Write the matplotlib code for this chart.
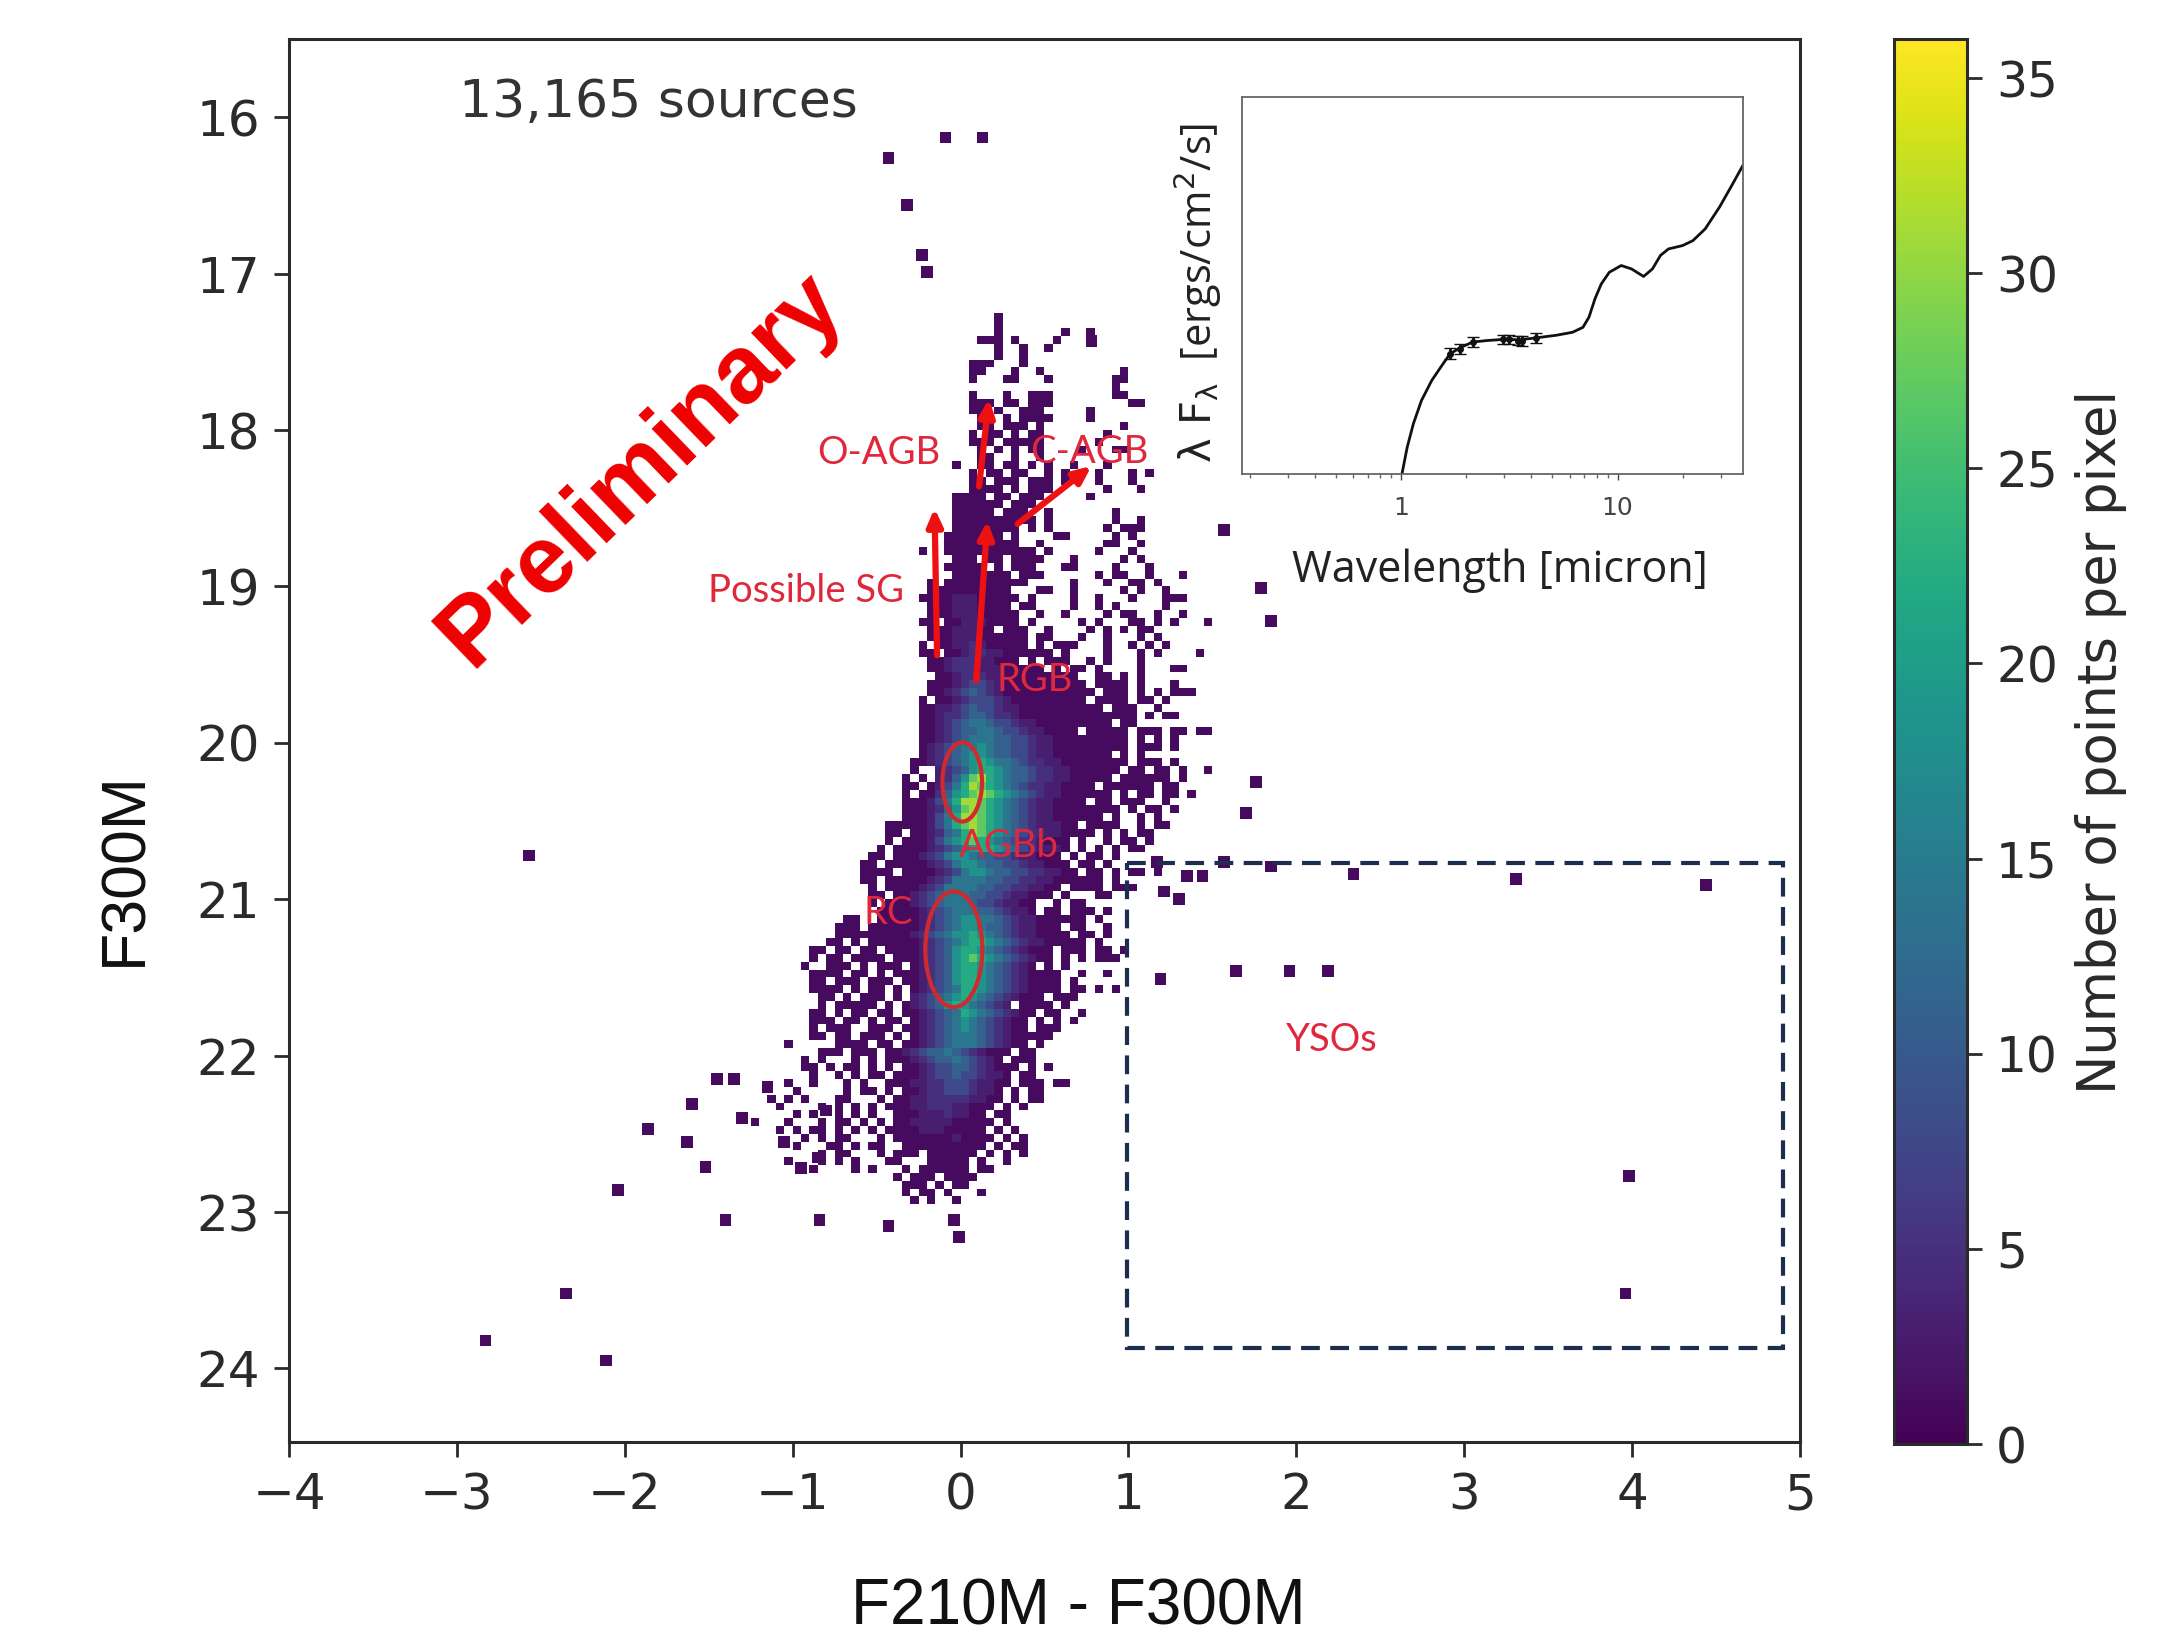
import numpy as np
import matplotlib
matplotlib.use('Agg')
import matplotlib.pyplot as plt
from matplotlib.patches import Ellipse, Rectangle
from matplotlib.cm import ScalarMappable
from matplotlib.colors import Normalize

W, H = 2178, 1634

# density cells, one entry per row (0.05 mag steps from 17.25)
# (first column, levels), column 0 is colour -1.4, '.' is an empty cell
cell_rows = [
    (32, "1"), (32, "1"), (32, "1.......1..1"), (30, "111.1....1"), (32, "1..1..1"),
    (32, "1..1"), (29, "111...1"), (29, "11...1..1.........1"), (29, "1...11...1.......11"), (46, "1"),
    (29, "1...1..111.......11"), (29, "111.11.111.........11"), (29, "11.1..111.....1"), (30, "11.1.1111....1"),
    (30, "11.111.1.........1"), (29, "1.11.1.11.......1"), (29, "111.11111......1"), (30, "1.1.1.11....1...11"),
    (30, "11..1..1"), (27, "1..11.11.1.1..1...1"), (29, "1.11.11..1.1.1.1...1.1"), (29, "11.111.111.1...1...1"),
    (29, "1111.1.111......1...1"), (27, "1111.11.111.....1"), (27, "111111.111"), (27, "11111.111..1.......1"),
    (27, "1111111111.1.......1..1"), (27, "11111111.1.1......1.111"), (26, "1111111.1....11.....1.1"),
    (26, "111111111..1.......11..1"),
    (23, "1..11111111111.1.....1...1"), (27, "111.11.1111...1.....1.1"), (26, "11111.1.111...11....1...1"),
    (27, "1111111.111......1.11..1...1"), (24, "1.1111111111.....1...1..11.1"), (24, "1111111111...11..1.....1.1..1"),
    (23, "111122211111.1....1..1...1...111"), (24, "1112221111.11....1..1.1.....1"), (24, "11122211111..1..1....1.11..1..1"),
    (23, "11.112221111.1.....1.1...11.1.1...1"), (24, "11122211.111..1....1.1.1.11"), (24, "111222111111.11...1..1...1.1"),
    (23, "1.11223211111.1.111...1..1.1.1"), (23, "11.1123322111111.1....1...1.1....1"), (24, "11233322111.1.111..1.1...1"),
    (24, "11233322211111.1.11.1....1...11"), (25, "11233322111111111..11.1.1"),
    (24, "1112344321111111111.1111.1...1"), (24, "11234543211111111111.111.1.1.111"), (23, "1.112344432111111111.1111.11.1"),
    (23, "1122345443221111111111.111..1"), (23, "11233455433211111111111111.1.11"), (23, "11234566544322111111111.11"),
    (23, "1123455665443221111.11111.111.11.11"), (23, "1123456665544322111111111.1.1.1"), (23, "1234566765544322111111111.111.1"),
    (23, "12345677655443221111111.1.1"), (22, "11234567876654332211111111.111.1"), (22, "1..2345788765543322111111.11.11.1..1"),
    (21, "1.1.23579a876554332211111.111111.1"), (21, "11.12468a98765433221111.111111.11"), (21, "1.1135789a987654322111111.1.11.11.1"),
    (21, "1112468aa9876543221111.11.111..1"), (21, "11123579a98765432211111111.1.11.1"), (21, "1112468aa987654322111111.1..1.1"),
    (19, "1111124689a987654322211.1111..1.11"), (19, "11.1123568a98765433221111.1.1.11"), (19, "1.11124678987654332111.1..1.11.1"),
    (18, "1.111123456788765432221.1.1.1.11"), (17, "11.11123467765544322111.1.11.1"), (16, "11.1111123467765544322111.11.1"),
    (16, "1111.111123467765544332211.11.1.11.1"), (16, "11.11111234666655443322111111.1"), (17, "1.111123466665544332211.1111.111"),
    (17, "11.1123456665544322111.1...11"), (17, "1.111234566654432211..1.11"), (18, "1111123456665543221.11.111.1"),
    (14, "11..1111123456776654322111111.1"), (13, "111.11111123456776554322111.11..1"), (13, "1111111112345677876543221111.11.1"),
    (12, "11.1.11111123456788765432211111.1"), (10, "11.11.11.11112345788765432111.111.11.1"), (10, "1.11.1111.1112345789876543211.1.1.111"),
    (9, "1..111.1.111.123457887654321.1.1"), (10, "1111.11.1.11123457887654321111..1..1"), (10, "11.111.111.1123457887654321111.1"),
    (10, "1111.1.11.1.123456887654321111.11.1.1"), (11, "11.1.111.1.2345678765432111.111"), (11, "1.11111.1.1234578765432.1111.1"),
    (10, "11.1.11.11.1123456876543211.11..1"), (10, "111.11.1.11.12345676543211.1.1.1"), (10, "1.111..111.112345676543211.111"),
    (10, "11.11.111.1.12345666543211111"), (7, "1.....1111.11.112345666543211.1"), (11, "111.111.112345565432111.11"),
    (9, "1.1...1.1.11123455654321.111"), (9, "11.1.11.1.1.11234455432111.1.1"), (10, "1..1.1.11.11123445443221.11"),
    (7, "1..1...1.1..111223344432211.111.11"), (8, "1.....1.11.1.112334443221.1.11"), (5, "1.1.1...11...1.1122333332211.1.11"),
    (6, "1....1.1.1.1.1112233322111.1.1"), (8, "1.1..1.1.1..11122232211.11"), (3, "1...1...1.11.1.1.112222211111.1"),
    (6, "1.1.11.1.1.1.111122211111.1.1"), (9, "1.1.11...1.111111121111.1.1"), (8, "1...11.1.11..1111111111.1.11"),
    (11, "1.11...1.111.111111.1.1.1"), (7, "1...1.1.1...11...11111.1..1"), (10, "1....1.1...1.111111.11"),
    (20, "1.111.1111"), (21, "111.1.11"), (21, "1.11.1...1"), (22, "1.1..1"),
]

# isolated blobs outside the table (colour, magnitude)
stray_x = [-0.43, -0.09, 0.13, -0.32, -0.23, -0.20, -2.57, -2.83, -2.35, -2.11, -2.04, -1.40, -0.84, -0.43,
           -0.04, -0.01, -1.86, -1.63, -1.60, -1.45, -1.35, -1.52, 1.85, 2.34, 3.31, 4.44, 1.57, 1.64, 1.96,
           2.19, 3.98, 3.96, 1.19, 1.76, 1.70, 1.85, 1.79, 1.57, 1.44, 1.30, 1.17, 1.21, 1.35, 0.78,
           -1.30, -1.15, -1.05, -0.95, -0.85, -0.80]
stray_y = [16.26, 16.13, 16.13, 16.56, 16.88, 16.99, 20.72, 23.82, 23.52, 23.95, 22.86, 23.05, 23.05, 23.09,
           23.05, 23.16, 22.47, 22.55, 22.31, 22.15, 22.15, 22.71, 20.79, 20.84, 20.87, 20.91, 20.76, 21.46,
           21.46, 21.46, 22.77, 23.52, 21.51, 20.25, 20.45, 19.22, 19.01, 18.64, 20.85, 21.00, 20.76, 20.95, 20.85, 17.43,
           22.40, 22.20, 22.55, 22.72, 22.65, 22.35]

level_counts = {'1': 1, '2': 3, '3': 5, '4': 8, '5': 11, '6': 14, '7': 18, '8': 22, '9': 27, 'a': 31}

# SED in the inset: wavelength (micron) and flux on a relative scale
sed_wave = [1.009, 1.067, 1.139, 1.242, 1.385, 1.544, 1.684, 1.877, 2.138, 2.49, 2.96, 3.52, 4.19, 5.21, 6.20, 6.92,
            7.38, 7.87, 8.41, 9.16, 10.4, 11.6, 13.2, 14.5, 15.8, 17.2, 20.0, 22.3, 25.4, 29.6, 33.7, 38.0]
sed_flux = [0, .071, .133, .195, .248, .288, .319, .335, .350, .354, .357, .356, .361, .368, .376, .389,
            .416, .465, .504, .535, .553, .544, .524, .544, .580, .597, .606, .619, .650, .708, .765, .819]
phot_wave = [1.68, 1.88, 2.14, 2.96, 3.15, 3.45, 3.60, 4.19]
phot_flux = [.319, .331, .350, .357, .357, .354, .352, .361]
phot_err = [.014, .014, .014, .013, .013, .013, .013, .013]

# red labels and arrows
labels = ["O-AGB", "C-AGB", "Possible SG", "RGB", "AGBb", "RC", "YSOs"]
label_x = [-0.485, 0.764, -0.92, 0.44, 0.29, -0.43, 2.21]
label_y = [18.15, 18.14, 19.03, 19.60, 20.66, 21.09, 21.90]
arrow_start = [(-0.14, 19.44), (0.094, 19.60), (0.11, 18.36), (0.34, 18.60)]
arrow_end = [(-0.155, 18.50), (0.16, 18.58), (0.17, 17.80), (0.78, 18.23)]

xt = [-4, -3, -2, -1, 0, 1, 2, 3, 4, 5]
yt = [16, 17, 18, 19, 20, 21, 22, 23, 24]
cbt = [0, 5, 10, 15, 20, 25, 30, 35]

step = 0.05
xe = np.arange(-4, 5 + step / 2, step)
ye = np.arange(15.5, 24.5 + step / 2, step)
counts = np.zeros((len(ye) - 1, len(xe) - 1))
for j, (first, levels) in enumerate(cell_rows):
    for i, c in enumerate(levels):
        if c != '.':
            counts[35 + j, 52 + first + i] = level_counts[c]

fig = plt.figure(figsize=(W / 100, H / 100), dpi=100)


def box(x0, y0, x1, y1):
    return [x0 / W, 1 - y1 / H, (x1 - x0) / W, (y1 - y0) / H]


ink = '#2a2a2a'
ax = fig.add_axes(box(289, 39, 1800, 1442))
norm = Normalize(0, 36)
ax.pcolormesh(xe, ye, np.ma.masked_equal(counts, 0), cmap='viridis', norm=norm)
ax.scatter(stray_x, stray_y, c=np.ones(len(stray_x)), cmap='viridis', norm=norm, marker='s', s=70, linewidths=0)
ax.set_xlim(-4, 5)
ax.set_ylim(24.47, 15.5)
ax.set_xticks(xt)
ax.set_yticks(yt)
ax.tick_params(labelsize=36, length=11, width=2, colors=ink, pad=10)
for s in ax.spines.values():
    s.set_linewidth(2.2)
    s.set_color(ink)

ax.add_patch(Rectangle((0.99, 20.77), 3.91, 3.10, fill=False, ec='#1d2d4d', lw=3, ls=(0, (4.5, 2.5))))
ax.add_patch(Ellipse((0.01, 20.25), 0.236, 0.506, fill=False, ec='#cf2a30', lw=3))
ax.add_patch(Ellipse((-0.04, 21.32), 0.34, 0.74, fill=False, ec='#cf2a30', lw=3))

for s, e in zip(arrow_start, arrow_end):
    ax.annotate('', xy=e, xytext=s,
                arrowprops=dict(arrowstyle='-|>,head_width=0.45,head_length=1.0', color='#ee1111', lw=4.5,
                                shrinkA=0, shrinkB=0))
for t, x, y in zip(labels, label_x, label_y):
    ax.text(x, y, t, color='#e0283c', fontsize=27.5, family='Lato', ha='center', va='center')

ax.text(-2.99, 15.91, "13,165 sources", fontsize=37.5, color='#333333', va='center')
ax.text(-1.90, 18.25, "Preliminary", fontsize=69, color='#ee0000', family='Liberation Sans', weight='bold',
        rotation=44, rotation_mode='anchor', ha='center', va='center')

fig.text(776 / 1568, 1 - 1157 / 1176, "F210M - F300M", family='Liberation Sans', fontsize=46, color='#111111',
         ha='center', va='center')
fig.text(90 / 1568, 1 - 625 / 1176, "F300M", family='Liberation Sans', fontsize=45, color='#111111',
         rotation=90, ha='center', va='center')

# inset SED
ins = fig.add_axes(box(1242, 97, 1743, 474))
ins.plot(sed_wave, sed_flux, color='#111111', lw=2)
ins.errorbar(phot_wave, phot_flux, yerr=phot_err, fmt='o', ms=4, color='#111111', capsize=4, lw=2)
ins.set_xscale('log')
ins.set_xlim(0.184, 38)
ins.set_ylim(0, 1)
ins.set_yticks([])
ins.set_xticks([1, 10])
ins.set_xticklabels(['1', '10'])
ins.tick_params(axis='x', which='major', labelsize=18, length=4, width=1, colors='#444444', pad=12)
ins.tick_params(axis='x', which='minor', length=3, width=1, colors='#666666')
for s in ins.spines.values():
    s.set_linewidth(1.3)
    s.set_color('#666666')
fig.text(1080 / 1568, 1 - 411 / 1176, "Wavelength [micron]", family='Open Sans', fontsize=31, color='#222222',
         ha='center', va='center')
fig.text(862 / 1568, 1 - 211 / 1176, r"$\mathrm{\lambda\ F_\lambda}$  [ergs/cm$^2$/s]", family='Open Sans', fontsize=30,
         color='#222222', rotation=90, ha='center', va='center')

# colour bar
cax = fig.add_axes(box(1894, 39, 1967, 1444))
cb = fig.colorbar(ScalarMappable(norm=norm, cmap='viridis'), cax=cax)
cb.set_ticks(cbt)
cb.ax.tick_params(labelsize=35, length=11, width=2, colors=ink, pad=10)
cb.outline.set_linewidth(2.2)
cb.outline.set_edgecolor(ink)
cb.set_label("Number of points per pixel", fontsize=38, color=ink, labelpad=12)

fig.savefig('out.png', dpi=100)
